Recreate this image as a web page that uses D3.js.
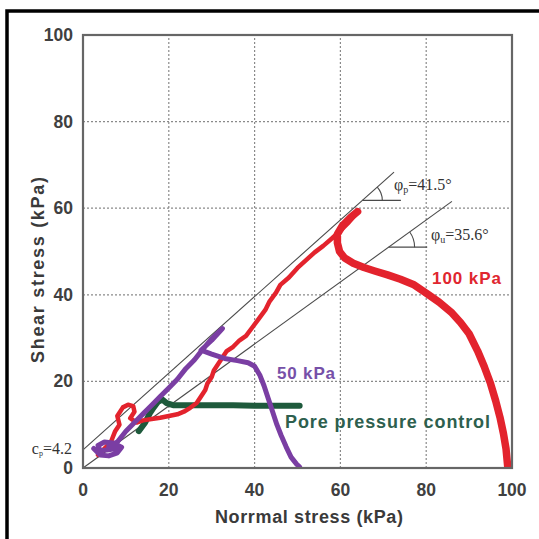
<!DOCTYPE html>
<html>
<head>
<meta charset="utf-8">
<script src="https://cdn.jsdelivr.net/npm/d3@7"></script>
<style>
  body { margin: 0; background: #fff; }
  .tick-label { font-family: "Liberation Sans", Arial, sans-serif; font-weight: bold; font-size: 17.5px; fill: #404040; }
  .axis-title { font-family: "Liberation Sans", Arial, sans-serif; font-weight: bold; font-size: 18px; fill: #3a3a3a; }
  .series-label { font-family: "Liberation Sans", Arial, sans-serif; font-weight: bold; }
  .phi-label { font-family: "Liberation Serif", "Times New Roman", serif; font-size: 16px; fill: #333; }
</style>
</head>
<body>
<div id="chart"></div>
<script>
// axis ticks
var xTicks = [0, 20, 40, 60, 80, 100];
var yTicks = [0, 20, 40, 60, 80, 100];

// failure envelopes: peak (with cohesion) and ultimate
var envelopes = [
  {name: "p", phi: 41.5, c: 4.2, xEnd: 72.5, markY: 61.8, label: "=41.5°"},
  {name: "u", phi: 35.6, c: 0, xEnd: 86, markY: 51, label: "=35.6°"}
];

// 100 kPa test, loading part up to peak
var red100Rise = [[3.5,3],[5,4.5],[6.5,6],[7.5,8.5],[8.5,10],[8,12],[9.3,14],[10.5,14.6],[11.7,14.3],[12,13],[11,11.5],[12.5,10.5],
  [14,11],[16,11.3],[18,11.6],[20,12],[22,12.4],[23.5,13],[25,13.9],[26.5,15],[27.5,16.5],[28.5,18],[29,19.5],[30,21],
  [30.5,22.5],[31.5,24],[32.5,25.5],[33.5,27],[35,28],[36.5,29.5],[38,30.5],[39.5,32.5],[41,34.5],[42.5,36.5],[43.5,38.5],
  [45,40.5],[46,42.3],[48,44],[50,46.2],[52,48],[54,49.8],[56,51.3],[58,53],[60,54.8],[62,56.8],[63.5,58.5],[64,59.2]];

// 100 kPa test, post-peak part
var red100Fall = [[64,59.2],[62.5,58],[60.5,56],[59.3,54],[59.3,52],[59.8,50],[61,48.5],[63,47.3],[65.5,46.3],[68,45.5],
  [71,44.6],[74,43.6],[77,42.4],[80,40.4],[83,38.3],[86,35.8],[88,33.6],[90,31],[92,27],[93.5,23.5],[95,19.5],
  [96.2,15.5],[97.2,11.7],[98,8],[98.6,4.5],[99,0.3]];

// 50 kPa test
var purple50 = [[2.5,4.5],[4,3],[6,2.8],[8,3.5],[9,4.8],[7,5.8],[5,6],[3.5,5.2],[4,4],[6,4.2],[7.5,4.5],[6,5],[8,6],[10,8.5],[12,10.5],[14,12.5],
  [16,14.5],[18,16.5],[20,18.5],[22,20.5],[24,23],[26,25],[28,27.5],[30,29.8],[32.5,32.2],[30,29.5],[27.5,27.2],
  [30,26.3],[33,25.3],[36,24.8],[38.5,24.3],[40,23.5],[41.2,21.5],[42.2,19],[43.2,16],[44.2,13],[45.2,10],[46.2,7.5],
  [47.3,5],[48.5,2.5],[49.7,1],[50.5,0.2]];

// pore pressure control test
var greenPore = [[13,8.5],[14.5,10.5],[15.5,12.5],[16.5,14],[17.5,15.3],[18.5,15.8],[19.5,15],[21,14.5],[25,14.5],
  [30,14.5],[35,14.5],[40,14.4],[45,14.4],[50.5,14.4]];

var width = 539, height = 539;
var margin = {top: 35, right: 27, bottom: 71, left: 83};
var plotW = width - margin.left - margin.right;
var plotH = height - margin.top - margin.bottom;

var svg = d3.select("#chart").append("svg")
  .attr("width", width)
  .attr("height", height);

// outer frame (only top and left visible)
svg.append("rect")
  .attr("x", 7).attr("y", 11)
  .attr("width", 600).attr("height", 600)
  .attr("fill", "none")
  .attr("stroke", "#000")
  .attr("stroke-width", 3.5);

var x = d3.scaleLinear().domain([0, 100]).range([margin.left, margin.left + plotW]);
var y = d3.scaleLinear().domain([0, 100]).range([margin.top + plotH, margin.top]);

svg.append("defs").append("clipPath").attr("id", "plotClip")
  .append("rect")
  .attr("x", margin.left).attr("y", margin.top)
  .attr("width", plotW).attr("height", plotH);

// grid
var grid = svg.append("g").attr("class", "grid");
grid.selectAll(".vgrid").data(xTicks.slice(1, -1)).enter().append("line")
  .attr("x1", function(d) { return x(d); }).attr("x2", function(d) { return x(d); })
  .attr("y1", y(0)).attr("y2", y(100))
  .attr("stroke", "#8a8a8a").attr("stroke-width", 1.2).attr("stroke-dasharray", "2,2");
grid.selectAll(".hgrid").data(yTicks.slice(1, -1)).enter().append("line")
  .attr("y1", function(d) { return y(d); }).attr("y2", function(d) { return y(d); })
  .attr("x1", x(0)).attr("x2", x(100))
  .attr("stroke", "#8a8a8a").attr("stroke-width", 1.2).attr("stroke-dasharray", "2,2");

// envelopes and angle marks
var env = svg.append("g").attr("class", "envelopes");
envelopes.forEach(function(e) {
  var k = Math.tan(e.phi * Math.PI / 180);
  env.append("line")
    .attr("x1", x(0)).attr("y1", y(e.c))
    .attr("x2", x(e.xEnd)).attr("y2", y(e.c + k * e.xEnd))
    .attr("stroke", "#4a4a4a").attr("stroke-width", 1.1);
  var mx = (e.markY - e.c) / k;
  env.append("line")
    .attr("x1", x(mx)).attr("y1", y(e.markY))
    .attr("x2", x(mx + 9)).attr("y2", y(e.markY))
    .attr("stroke", "#4a4a4a").attr("stroke-width", 1.1);
  var r = e.name == "p" ? 20 : 26;
  env.append("path")
    .attr("transform", "translate(" + x(mx) + "," + y(e.markY) + ")")
    .attr("d", d3.arc()({innerRadius: r, outerRadius: r, startAngle: Math.PI / 2 - e.phi * Math.PI / 180, endAngle: Math.PI / 2}))
    .attr("fill", "none").attr("stroke", "#4a4a4a").attr("stroke-width", 1.1);
});

var phiP = svg.append("text").attr("class", "phi-label").attr("x", 394).attr("y", 190);
phiP.append("tspan").text("φ");
phiP.append("tspan").attr("font-size", "10px").attr("dy", 3).text("p");
phiP.append("tspan").attr("dy", -3).text(envelopes[0].label);

var phiU = svg.append("text").attr("class", "phi-label").attr("x", 431).attr("y", 240);
phiU.append("tspan").text("φ");
phiU.append("tspan").attr("font-size", "10px").attr("dy", 3).text("u");
phiU.append("tspan").attr("dy", -3).text(envelopes[1].label);

// data paths
var line = d3.line()
  .x(function(d) { return x(d[0]); })
  .y(function(d) { return y(d[1]); })
  .curve(d3.curveLinear);

var data = svg.append("g").attr("clip-path", "url(#plotClip)");
data.append("path").datum(greenPore)
  .attr("d", line).attr("fill", "none")
  .attr("stroke", "#1e5a3c").attr("stroke-width", 6)
  .attr("stroke-linejoin", "round").attr("stroke-linecap", "round");
data.append("path").datum(red100Rise)
  .attr("d", line).attr("fill", "none")
  .attr("stroke", "#e3232d").attr("stroke-width", 4.5)
  .attr("stroke-linejoin", "round").attr("stroke-linecap", "round");
data.append("path").datum(red100Fall)
  .attr("d", line).attr("fill", "none")
  .attr("stroke", "#e3232d").attr("stroke-width", 7.5)
  .attr("stroke-linejoin", "round").attr("stroke-linecap", "round");
data.append("path").datum(purple50)
  .attr("d", line).attr("fill", "none")
  .attr("stroke", "#7a3ea3").attr("stroke-width", 5)
  .attr("stroke-linejoin", "round").attr("stroke-linecap", "round");

// plot border
svg.append("rect")
  .attr("x", x(0)).attr("y", y(100))
  .attr("width", plotW).attr("height", plotH)
  .attr("fill", "none").attr("stroke", "#666").attr("stroke-width", 2.2);

// tick labels
svg.selectAll(".xlab").data(xTicks).enter().append("text")
  .attr("class", "tick-label")
  .attr("x", function(d) { return x(d); })
  .attr("y", y(0) + 28)
  .attr("text-anchor", "middle")
  .text(function(d) { return d; });
svg.selectAll(".ylab").data(yTicks).enter().append("text")
  .attr("class", "tick-label")
  .attr("x", x(0) - 10)
  .attr("y", function(d) { return y(d) + 6; })
  .attr("text-anchor", "end")
  .text(function(d) { return d; });

// cohesion label
var cLab = svg.append("text").attr("class", "phi-label")
  .attr("x", 72).attr("y", 454).attr("text-anchor", "end")
  .attr("font-size", "12px").attr("fill", "#666");
cLab.append("tspan").text("c");
cLab.append("tspan").attr("font-size", "8px").attr("dy", 2).text("p");
cLab.append("tspan").attr("dy", -2).text("=4.2");

// axis titles
svg.append("text").attr("class", "axis-title")
  .attr("x", 309).attr("y", 523)
  .attr("text-anchor", "middle")
  .attr("textLength", 188).attr("lengthAdjust", "spacing")
  .text("Norrmal stress (kPa)");
svg.append("text").attr("class", "axis-title")
  .attr("transform", "translate(44,270) rotate(-90)")
  .attr("text-anchor", "middle")
  .attr("textLength", 186).attr("lengthAdjust", "spacing")
  .text("Shear stress (kPa)");

// series labels
svg.append("text").attr("class", "series-label")
  .attr("x", 432).attr("y", 284).attr("font-size", "17px").attr("fill", "#e0262f")
  .attr("textLength", 69).attr("lengthAdjust", "spacing")
  .text("100 kPa");
svg.append("text").attr("class", "series-label")
  .attr("x", 277).attr("y", 379).attr("font-size", "17px").attr("fill", "#7650a8")
  .attr("textLength", 58).attr("lengthAdjust", "spacing")
  .text("50 kPa");
svg.append("text").attr("class", "series-label")
  .attr("x", 285).attr("y", 428).attr("font-size", "18px").attr("fill", "#2e5f4e")
  .attr("textLength", 205).attr("lengthAdjust", "spacing")
  .text("Pore pressure control");
</script>
</body>
</html>
